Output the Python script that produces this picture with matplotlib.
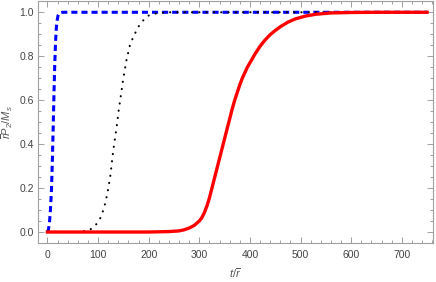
import matplotlib
matplotlib.use("Agg")
import matplotlib.pyplot as plt
from matplotlib.ticker import MultipleLocator

plt.rcParams['font.family'] = ['Liberation Sans', 'DejaVu Sans']
plt.rcParams['mathtext.fontset'] = 'custom'
plt.rcParams['mathtext.it'] = 'Liberation Sans:italic'
plt.rcParams['mathtext.rm'] = 'Liberation Sans'

# Blue dashed curve
t_blue = [0, 2, 4, 6, 8, 10, 11.5, 13, 14.5, 16, 17.5, 19, 21, 24, 30, 750]
v_blue = [0, 0.01, 0.04, 0.1, 0.19, 0.34, 0.48, 0.63, 0.76, 0.86, 0.925, 0.96, 0.985, 0.997, 1.0, 1.0]

# Black dotted curve
t_black = [0, 60, 75, 85, 95, 105, 112, 118, 124, 130, 135, 138, 140, 145, 150, 156, 163,
           170, 180, 190, 200, 215, 235, 260, 750]
v_black = [0, 0, 0.005, 0.012, 0.03, 0.065, 0.11, 0.17, 0.25, 0.37, 0.45, 0.50, 0.54, 0.62,
           0.70, 0.78, 0.85, 0.89, 0.935, 0.965, 0.985, 0.995, 1.0, 1.0, 1.0]

# Red solid curve
t_red = [0, 200, 240, 260, 270, 280, 290, 300, 305, 310, 315, 320, 325, 330, 335, 340, 345,
         350, 355, 360, 365, 370, 375, 380, 385, 390, 395, 400, 410, 420, 430, 440, 450,
         460, 475, 490, 510, 530, 560, 600, 650, 750]
v_red = [0, 0, 0.002, 0.005, 0.01, 0.018, 0.03, 0.05, 0.065, 0.088, 0.118, 0.155, 0.2,
         0.245, 0.29, 0.335, 0.38, 0.425, 0.47, 0.515, 0.56, 0.6, 0.635, 0.67, 0.7, 0.725,
         0.75, 0.77, 0.81, 0.845, 0.874, 0.898, 0.917, 0.934, 0.955, 0.97, 0.983, 0.991,
         0.997, 0.999, 1.0, 1.0]

xticks = [0, 100, 200, 300, 400, 500, 600, 700]
yticks = [0.0, 0.2, 0.4, 0.6, 0.8, 1.0]

fig = plt.figure(figsize=(4.36, 2.82), dpi=100)
ax = fig.add_axes([0.0878, 0.1372, 0.9046, 0.8598])

ax.plot(t_blue, v_blue, color='#0000ff', lw=2.2, linestyle=(0, (2.0, 1.3)))
ax.plot(t_black, v_black, color='black', lw=1.5, linestyle=(0, (0.1, 3.4)),
        dash_capstyle='round')
ax.plot(t_red, v_red, color='#ff0000', lw=2.4, solid_joinstyle='round')

ax.set_xlim(-18, 761)
ax.set_ylim(-0.0514, 1.052)
ax.set_xticks(xticks)
ax.set_xticklabels([str(x) for x in xticks])
ax.set_yticks(yticks)
ax.set_yticklabels([f"{y:.1f}" for y in yticks])
ax.xaxis.set_minor_locator(MultipleLocator(20))
ax.yaxis.set_minor_locator(MultipleLocator(0.05))

frame_color = '#a0a0a0'
for s in ax.spines.values():
    s.set_color(frame_color)
    s.set_linewidth(0.8)
ax.tick_params(which='both', direction='in', top=True, right=True, color=frame_color,
               labelcolor='#444444', labelsize=7.5, width=0.7)
ax.tick_params(which='major', length=4)
ax.tick_params(which='minor', length=2)
ax.tick_params(axis='x', pad=5)
ax.tick_params(axis='y', pad=3)

ax.set_xlabel(r'$t/\overline{r}$', color='#555555', fontsize=8, labelpad=4)
ax.set_ylabel(r'$\overline{r}P_2/M_s$', color='#555555', fontsize=8, labelpad=3)

fig.savefig('out.png', dpi=100)
